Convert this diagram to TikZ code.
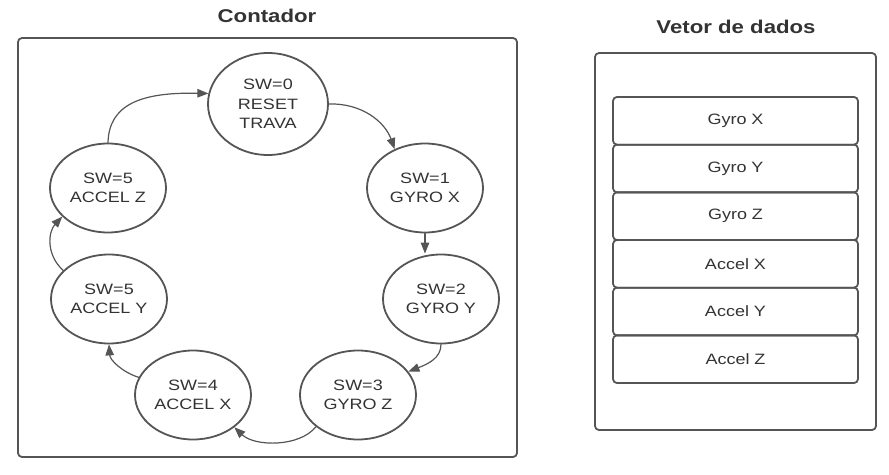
\documentclass[tikz,border=0pt]{standalone}
\usepackage{fontspec}
\setmainfont{Liberation Sans}[FakeStretch=1.2]
\usetikzlibrary{arrows.meta,shapes.geometric}
\definecolor{linegray}{HTML}{555555}
\definecolor{txtgray}{HTML}{333333}
\begin{document}
\begin{tikzpicture}[x=1pt,y=-1pt,line join=round,line cap=round,>={Triangle[length=11pt,width=8.5pt]}]
	\tikzset{every node/.style={text=txtgray,font=\fontsize{15}{19.5}\selectfont},
		state/.style={ellipse,draw=linegray,line width=1.8pt,fill=white,minimum width=116pt,minimum height=89pt,inner sep=0pt,align=center},
		cell/.style={draw=linegray,line width=1.8pt,rounded corners=4pt,minimum width=245pt,minimum height=47.7pt,inner sep=0pt},
		frame/.style={draw=linegray,line width=1.8pt,rounded corners=4pt},
		title/.style={font=\bfseries\fontsize{18.5}{22}\selectfont,anchor=base},
		link/.style={->,draw=linegray,line width=1.2pt}}
	\useasboundingbox (0,0) rectangle (889,474);
	% titulos e molduras
	\node[title] (tcont) at (267,22) {Contador};
	\node[title] (tvet) at (736,33) {Vetor de dados};
	\draw[frame] (18,38) rectangle (517,457);
	\draw[frame] (595,53) rectangle (876,430);
	% estados do contador
	\node[state,minimum width=120pt,minimum height=102pt] (sw0) at (268,104) {SW=0\\RESET\\TRAVA};
	\node[state] (sw1) at (425,188) {SW=1\\GYRO X};
	\node[state] (sw2) at (441,299) {SW=2\\GYRO Y};
	\node[state] (sw3) at (358,395) {SW=3\\GYRO Z};
	\node[state] (sw4) at (193,395) {SW=4\\ACCEL X};
	\node[state] (sw5y) at (109,299) {SW=5\\ACCEL Y};
	\node[state] (sw5z) at (108,188) {SW=5\\ACCEL Z};
	% transicoes
	\draw[link] (sw5z.north) .. controls (109,105) and (140,92) .. (sw0.170);
	\draw[link] (sw0.east) .. controls (362,103) and (385,122) .. (sw1.128);
	\draw[link] (sw1.south) -- (sw1.south |- sw2.north);
	\draw[link] (sw2.south) .. controls (441,358) and (428,364) .. (sw3.25);
	\draw[link] (sw3.217) .. controls (300,447) and (255,447) .. (sw4.322);
	\draw[link] (sw4.162) .. controls (122,372) and (110,360) .. (sw5y.south);
	\draw[link] (sw5y.148) .. controls (46,255) and (48,232) .. (sw5z.212);
	% vetor de dados
	\node[cell] (gx) at (735.5,120.8) {Gyro X};
	\node[cell] (gy) at (735.5,168.5) {Gyro Y};
	\node[cell] (gz) at (735.5,216.2) {Gyro Z};
	\node[cell] (ax) at (735.5,263.8) {Accel X};
	\node[cell] (ay) at (735.5,311.5) {Accel Y};
	\node[cell] (az) at (735.5,359.2) {Accel Z};
\end{tikzpicture}
\end{document}
